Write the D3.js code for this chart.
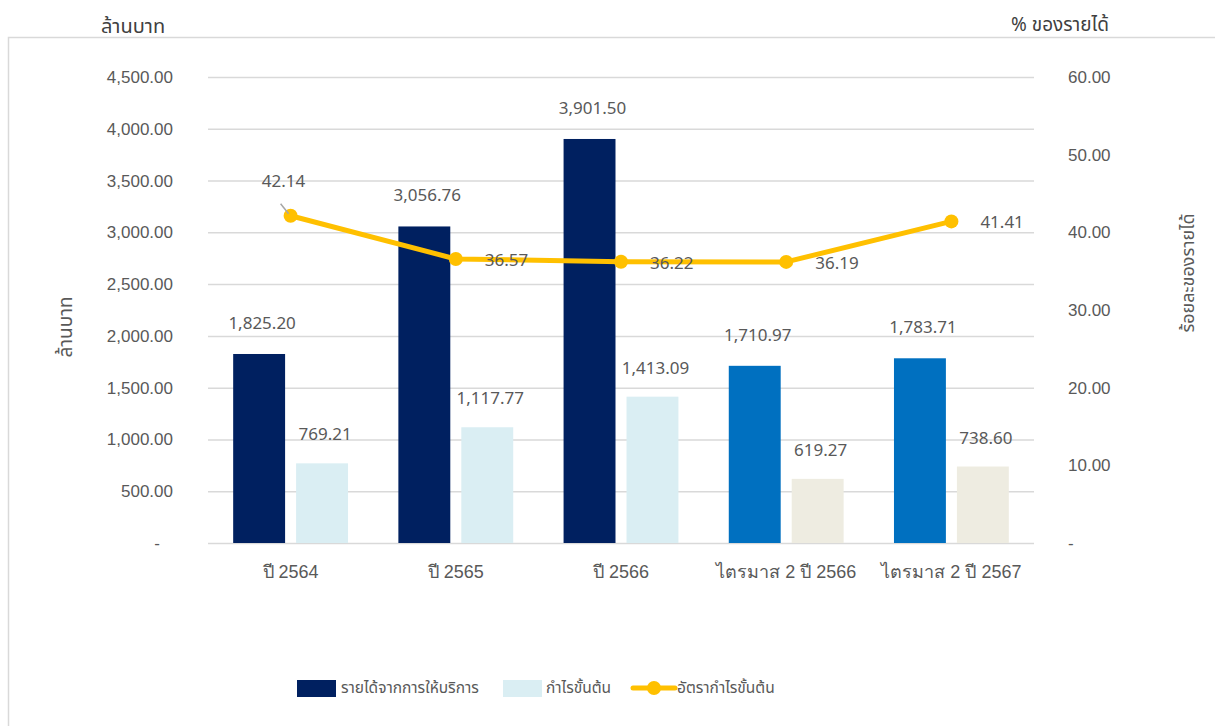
<!DOCTYPE html>
<html>
<head>
<meta charset="utf-8">
<script src="https://cdn.jsdelivr.net/npm/d3@7"></script>
<style>
  html, body { margin: 0; padding: 0; background: #fff; }
  svg { display: block; font-family: "Noto Sans Thai", "Leelawadee UI", Tahoma, "Noto Sans", "DejaVu Sans", sans-serif; }
</style>
</head>
<body>
<svg id="chart" width="1215" height="726"></svg>
<script>
const categories = ["ปี 2564", "ปี 2565", "ปี 2566", "ไตรมาส 2 ปี 2566", "ไตรมาส 2 ปี 2567"];
const revenue = [1825.20, 3056.76, 3901.50, 1710.97, 1783.71];
const grossProfit = [769.21, 1117.77, 1413.09, 619.27, 738.60];
const grossMargin = [42.14, 36.57, 36.22, 36.19, 41.41];
const revenueColors = ["#002060", "#002060", "#002060", "#0070C0", "#0070C0"];
const profitColors = ["#DAEEF3", "#DAEEF3", "#DAEEF3", "#EEECE1", "#EEECE1"];
const leftTicks = [0, 500, 1000, 1500, 2000, 2500, 3000, 3500, 4000, 4500];
const rightTicks = [0, 10, 20, 30, 40, 50, 60];
const seriesNames = ["รายได้จากการให้บริการ", "กำไรขั้นต้น", "อัตรากำไรขั้นต้น"];

const svg = d3.select("#chart");
const textColor = "#595959";
const gridColor = "#d9d9d9";
const fmt = d3.format(",.2f");

// outer frame
svg.append("rect").attr("x", 8.5).attr("y", 37.5).attr("width", 1300).attr("height", 800)
  .attr("fill", "none").attr("stroke", gridColor).attr("stroke-width", 1.5);

const plot = { left: 208, right: 1034, top: 77, bottom: 543 };
const x = d3.scaleBand().domain(categories).range([plot.left, plot.right]).padding(0);
const xs = d3.scaleBand().domain(["rev", "gp"]).range([0, x.bandwidth()]).paddingInner(0.175).paddingOuter(0.4);
const yL = d3.scaleLinear().domain([0, 4500]).range([plot.bottom, plot.top]);
const yR = d3.scaleLinear().domain([0, 60]).range([plot.bottom, plot.top]);

// gridlines
svg.append("g").selectAll("line").data(leftTicks).join("line")
  .attr("x1", plot.left).attr("x2", plot.right)
  .attr("y1", d => yL(d) + 0.5).attr("y2", d => yL(d) + 0.5)
  .attr("stroke", gridColor).attr("stroke-width", 1.5);

// left axis labels
const leftAxis = d3.axisLeft(yL).tickValues(leftTicks).tickSize(0).tickPadding(0)
  .tickFormat(d => d === 0 ? "-" : fmt(d));
const gL = svg.append("g").attr("transform", `translate(173,0)`).call(leftAxis);
gL.select(".domain").remove();
gL.selectAll("text").attr("fill", textColor).style("font-size", "17px")
  .attr("dx", d => d === 0 ? -13 : 0);

// right axis labels
const rightAxis = d3.axisRight(yR).tickValues(rightTicks).tickSize(0).tickPadding(0)
  .tickFormat(d => d === 0 ? "-" : d3.format(".2f")(d));
const gR = svg.append("g").attr("transform", `translate(1068,0)`).call(rightAxis);
gR.select(".domain").remove();
gR.selectAll("text").attr("fill", textColor).style("font-size", "17px");

// x axis labels
const xAxis = d3.axisBottom(x).tickSize(0).tickPadding(0);
const gX = svg.append("g").attr("transform", `translate(0,${plot.bottom + 22})`).call(xAxis);
gX.select(".domain").remove();
gX.selectAll("text").attr("fill", textColor).style("font-size", "18px").attr("dy", "0.71em");

// bars
const groups = svg.append("g").selectAll("g").data(categories).join("g")
  .attr("transform", d => `translate(${x(d)},0)`);
groups.append("rect")
  .attr("x", xs("rev")).attr("width", xs.bandwidth())
  .attr("y", (d, i) => yL(revenue[i])).attr("height", (d, i) => yL(0) - yL(revenue[i]))
  .attr("fill", (d, i) => revenueColors[i]);
groups.append("rect")
  .attr("x", xs("gp")).attr("width", xs.bandwidth())
  .attr("y", (d, i) => yL(grossProfit[i])).attr("height", (d, i) => yL(0) - yL(grossProfit[i]))
  .attr("fill", (d, i) => profitColors[i]);
// bar labels
groups.append("text")
  .attr("x", xs("rev") + xs.bandwidth() / 2 + 3).attr("y", (d, i) => yL(revenue[i]) - 25)
  .attr("text-anchor", "middle").attr("fill", textColor).style("font-size", "17px")
  .text((d, i) => fmt(revenue[i]));
groups.append("text")
  .attr("x", xs("gp") + xs.bandwidth() / 2 + 3).attr("y", (d, i) => yL(grossProfit[i]) - 23)
  .attr("text-anchor", "middle").attr("fill", textColor).style("font-size", "17px")
  .text((d, i) => fmt(grossProfit[i]));

// line
const cx = (d, i) => x(categories[i]) + x.bandwidth() / 2;
const line = d3.line().x((d, i) => cx(d, i)).y(d => yR(d));
svg.append("path").datum(grossMargin).attr("d", line)
  .attr("fill", "none").attr("stroke", "#FFC000").attr("stroke-width", 5).attr("stroke-linejoin", "round");
svg.append("g").selectAll("circle").data(grossMargin).join("circle")
  .attr("cx", cx).attr("cy", d => yR(d)).attr("r", 7).attr("fill", "#FFC000");

// line labels
const lineLabels = svg.append("g");
grossMargin.forEach((v, i) => {
  const px = cx(v, i), py = yR(v);
  if (i === 0) {
    lineLabels.append("line").attr("x1", px - 10).attr("y1", py - 12).attr("x2", px - 2).attr("y2", py - 2)
      .attr("stroke", "#a6a6a6").attr("stroke-width", 1.5);
    lineLabels.append("text").attr("x", px - 7).attr("y", py - 29).attr("text-anchor", "middle")
      .attr("fill", textColor).style("font-size", "17px").text(d3.format(".2f")(v));
  } else {
    lineLabels.append("text").attr("x", px + 29).attr("y", py + 1).attr("dy", "0.35em")
      .attr("fill", textColor).style("font-size", "17px").text(d3.format(".2f")(v));
  }
});

// axis titles
svg.append("text").attr("x", 133).attr("y", 33).attr("text-anchor", "middle")
  .attr("fill", "#404040").style("font-size", "20px").text("ล้านบาท");
svg.append("text").attr("x", 1060).attr("y", 31).attr("text-anchor", "middle")
  .attr("fill", "#404040").style("font-size", "19px").text("% ของรายได้");
svg.append("text").attr("transform", "translate(72,327) rotate(-90)").attr("text-anchor", "middle")
  .attr("fill", textColor).style("font-size", "19px").text("ล้านบาท");
svg.append("text").attr("transform", "translate(1194,273) rotate(-90)").attr("text-anchor", "middle")
  .attr("fill", textColor).style("font-size", "18px").text("ร้อยละของรายได้");

// legend
const lg = svg.append("g").attr("transform", "translate(0,688)");
lg.append("rect").attr("x", 297).attr("y", -8).attr("width", 39).attr("height", 17).attr("fill", revenueColors[0]);
lg.append("text").attr("x", 341).attr("y", 0).attr("dy", "0.35em").attr("fill", textColor)
  .style("font-size", "15.5px").text(seriesNames[0]);
lg.append("rect").attr("x", 503).attr("y", -8).attr("width", 39).attr("height", 17).attr("fill", profitColors[0]);
lg.append("text").attr("x", 546).attr("y", 0).attr("dy", "0.35em").attr("fill", textColor)
  .style("font-size", "15.5px").text(seriesNames[1]);
lg.append("line").attr("x1", 633).attr("x2", 675).attr("y1", 0).attr("y2", 0)
  .attr("stroke", "#FFC000").attr("stroke-width", 5).attr("stroke-linecap", "round");
lg.append("circle").attr("cx", 654).attr("cy", 0).attr("r", 7).attr("fill", "#FFC000");
lg.append("text").attr("x", 677).attr("y", 0).attr("dy", "0.35em").attr("fill", textColor)
  .style("font-size", "15.5px").text(seriesNames[2]);
</script>
</body>
</html>
